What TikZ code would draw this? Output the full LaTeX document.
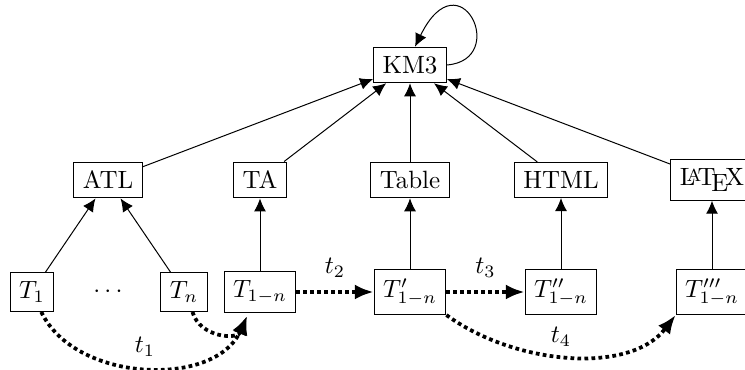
\documentclass[tikz,border=0pt]{standalone}
\usetikzlibrary{arrows.meta}
\begin{document}
\begin{tikzpicture}[x=0.4pt,y=-0.4pt,
  box/.style={draw, line width=0.4pt, inner sep=3.6pt},
  up/.style={-{Latex[length=5.2pt,width=4.8pt]}, line width=0.4pt},
  trans/.style={-{Latex[length=7.5pt,width=6pt]}, line width=1.5pt, dash pattern=on 1.5pt off 1.3pt},
  lbl/.style={inner sep=1pt}]
\useasboundingbox (0,0) rectangle (745,370);
% top
\node[box] (km3) at (410,65) {KM3};
% middle row
\node[box] (atl) at (108,180) {ATL};
\node[box] (ta) at (260,180) {TA};
\node[box] (table) at (410,180) {Table};
\node[box] (html) at (561,180) {HTML};
\node[box] (latex) at (712,180) {\LaTeX};
% bottom row
\node[box] (t1) at (32,292) {$T_1$};
\node (tdots) at (108,292) {$\cdots$};
\node[box] (tn) at (184,292) {$T_n$};
\node[box] (tall) at (260,292) {$T_{1-n}$};
\node[box] (tp) at (410,292) {$T'_{1-n}$};
\node[box] (tpp) at (561,292) {$T''_{1-n}$};
\node[box] (tppp) at (712,292) {$T'''_{1-n}$};
% edges to KM3
\foreach \n in {atl,ta,table,html,latex} \draw[up] (\n) -- (km3);
\draw[up] (km3.east) .. controls (510,60) and (460,-45) .. (km3.north -| 415,0);
% edges up
\draw[up] (t1) -- (atl);
\draw[up] (tn) -- (atl);
\draw[up] (tall) -- (ta);
\draw[up] (tp) -- (table);
\draw[up] (tpp) -- (html);
\draw[up] (tppp) -- (latex);
% transformations
\draw[trans] (tall) -- node[lbl, above=4pt] {$t_2$} (tp);
\draw[trans] (tp) -- node[lbl, above=4pt] {$t_3$} (tpp);
\coordinate (tallin) at (247,316);
\draw[trans] (t1.295) .. controls (75,383) and (215,388) .. (tallin);
\node[lbl] (t1lbl) at (145,347) {$t_1$};
\draw[trans] (tn.293) .. controls (200,338) and (238,340) .. (tallin);
\draw[trans] (tp.south east) .. controls (515,365) and (630,375) .. (tppp.south west);
\node[lbl] (t4lbl) at (561,337) {$t_4$};
\end{tikzpicture}
\end{document}
